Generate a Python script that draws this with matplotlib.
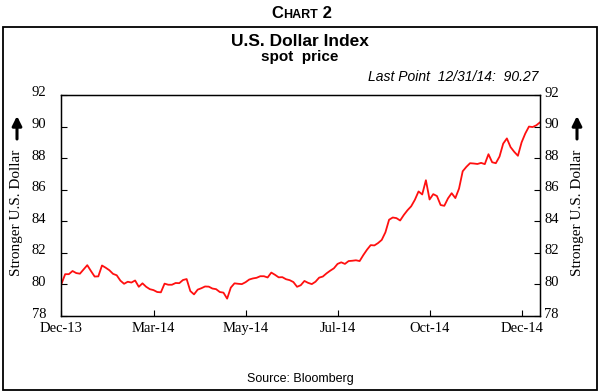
import numpy as np
import matplotlib
matplotlib.use("Agg")
import matplotlib.pyplot as plt
from matplotlib.patches import Rectangle
from matplotlib.transforms import ScaledTranslation

# ---- data (U.S. Dollar Index, every 2nd trading day, Dec-31-2013 .. Dec-31-2014) ----
dxy = [
    80.04, 80.65, 80.65, 80.85, 80.72, 80.68, 80.95, 81.22, 80.85, 80.50,
    80.51, 81.20, 81.06, 80.90, 80.67, 80.58, 80.24, 80.04, 80.17, 80.12,
    80.25, 79.85, 80.07, 79.85, 79.70, 79.64, 79.52, 79.50, 80.05, 79.98,
    79.98, 80.09, 80.08, 80.28, 80.34, 79.58, 79.37, 79.67, 79.76, 79.87,
    79.86, 79.74, 79.70, 79.52, 79.48, 79.10, 79.80, 80.07, 80.04, 80.02,
    80.14, 80.31, 80.38, 80.42, 80.52, 80.52, 80.44, 80.75, 80.61, 80.45,
    80.46, 80.33, 80.27, 80.15, 79.85, 79.95, 80.22, 80.10, 80.02, 80.17,
    80.43, 80.50, 80.70, 80.87, 81.02, 81.30, 81.40, 81.30, 81.48, 81.50,
    81.53, 81.48, 81.86, 82.20, 82.49, 82.47, 82.62, 82.82, 83.30, 84.10,
    84.24, 84.20, 84.05, 84.40, 84.70, 84.95, 85.36, 85.89, 85.70, 86.60,
    85.38, 85.72, 85.60, 85.03, 84.98, 85.45, 85.78, 85.47, 86.07, 87.17,
    87.45, 87.68, 87.66, 87.63, 87.70, 87.62, 88.25, 87.74, 87.68, 88.10,
    88.92, 89.25, 88.70, 88.40, 88.15, 89.00, 89.56, 90.00, 89.97, 90.08,
    90.27,
]
x_labels = ["Dec-13", "Mar-14", "May-14", "Jul-14", "Oct-14", "Dec-14"]
y_ticks = [78, 80, 82, 84, 86, 88, 90, 92]

W, H = 600, 392
fig = plt.figure(figsize=(W / 100, H / 100), dpi=100)

serif = ["Liberation Serif", "DejaVu Serif"]
sans = ["Liberation Sans", "DejaVu Sans"]

def fx(px):
    return px / W

def fy(py):
    return 1 - py / H

# outer frame
fig.patches.append(Rectangle((fx(3), fy(390)), fx(597) - fx(3), fy(27) - fy(390),
                             transform=fig.transFigure, fill=False,
                             edgecolor="black", linewidth=1.3))

# axes
ax = fig.add_axes([fx(61.5), fy(316), fx(540) - fx(61.5), fy(95) - fy(316)])
x = np.arange(len(dxy))
ax.plot(x, dxy, color="#ff1010", linewidth=1.3)
ax.set_xlim(0, len(dxy) - 1)
ax.set_ylim(y_ticks[0], y_ticks[-1])
ax.set_xticks(np.arange(len(x_labels)) * 25)
ax.set_xticklabels(x_labels, family=serif, fontsize=10.5)
ax.set_yticks(y_ticks)
ax.set_yticklabels([str(v) for v in y_ticks], family=serif, fontsize=10.5)
ax.tick_params(axis="x", direction="in", length=4, width=0.8, pad=4)
ax.tick_params(axis="y", direction="in", length=4, width=0.8, pad=11)
for s in ax.spines.values():
    s.set_linewidth(1.0)

ax2 = ax.twinx()
ax2.set_ylim(y_ticks[0], y_ticks[-1])
ax2.set_yticks(y_ticks)
ax2.set_yticklabels([str(v) for v in y_ticks], family=serif, fontsize=10.5)
ax2.tick_params(axis="y", direction="in", length=4, width=0.8, pad=3)

# y labels sit slightly above their ticks, as in the reference
up = ScaledTranslation(0, 3.5 / 100, fig.dpi_scale_trans)
for lab in ax.get_yticklabels() + ax2.get_yticklabels():
    lab.set_transform(lab.get_transform() + up)

# "CHART 2" in small-caps style
t1 = fig.text(fx(271), fy(18), "C", family=sans, fontsize=12, fontweight="bold",
              ha="left", va="baseline")
t2 = ax.annotate("HART", xy=(1, 0), xycoords=t1, ha="left", va="bottom",
                 family=sans, fontsize=9, fontweight="bold", annotation_clip=False)
t3 = ax.annotate(" 2", xy=(1, 0), xycoords=t2, ha="left", va="bottom",
                 family=sans, fontsize=12, fontweight="bold", annotation_clip=False)

fig.text(0.5, fy(41), "U.S. Dollar Index", family=sans, fontsize=12.5,
         fontweight="bold", ha="center", va="center")
fig.text(0.5, fy(57), "spot  price", family=sans, fontsize=11,
         fontweight="bold", ha="center", va="center")
fig.text(fx(538), fy(77), "Last Point  12/31/14:  90.27", family=sans,
         fontsize=10, style="italic", ha="right", va="center")
fig.text(0.5, fy(379), "Source: Bloomberg", family=sans, fontsize=9,
         ha="center", va="center")

# side labels with arrows
for xp in (17, 577):
    fig.text(fx(xp), fy(213), "Stronger U.S. Dollar", family=serif, fontsize=11,
             rotation=90, ha="center", va="center")
    ax.annotate("", xy=(xp, H - 116), xycoords="figure pixels",
                xytext=(xp, H - 139), textcoords="figure pixels",
                arrowprops=dict(arrowstyle="-|>", color="black", lw=2.2,
                                mutation_scale=14, shrinkA=0, shrinkB=0),
                annotation_clip=False)

fig.savefig("out.png", dpi=100)
